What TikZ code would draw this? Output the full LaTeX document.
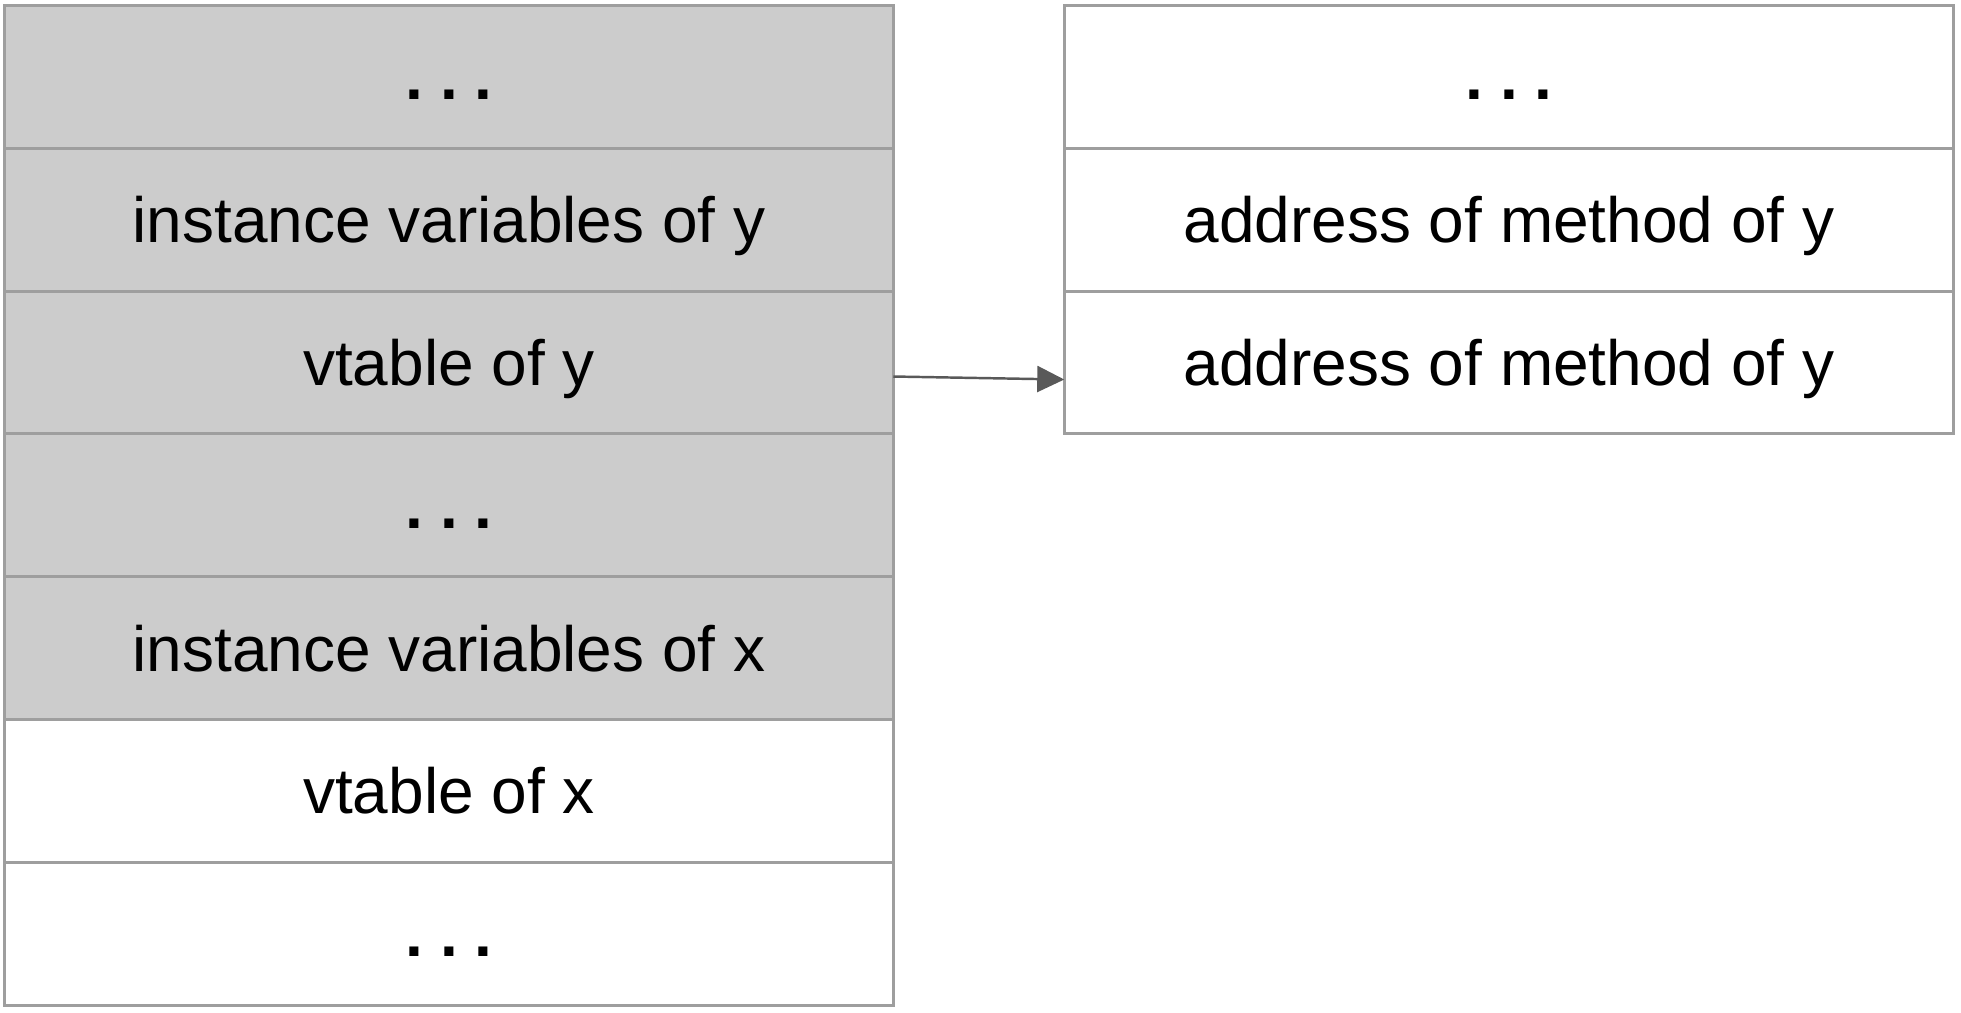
\documentclass[tikz,border=0pt]{standalone}
\usepackage{fontspec}
\setmainfont{Liberation Sans}
\usetikzlibrary{arrows.meta,positioning}
\definecolor{cellfill}{RGB}{204,204,204}
\definecolor{cellline}{RGB}{158,158,158}
\definecolor{ptrline}{RGB}{89,89,89}
\newcommand{\celldots}{\textbf{.\kern0.17cm.\kern0.17cm.}}

\begin{document}
\begin{tikzpicture}[
    node distance=0pt,
    cell/.style={
        draw=cellline,
        line width=0.85pt,
        minimum height=1.428cm,
        inner sep=0pt,
        outer sep=0pt,
        text height=0.46cm,
        text depth=0pt,
        font=\fontsize{18.2}{22}\selectfont
    },
    objcell/.style={cell, minimum width=8.885cm, fill=cellfill},
    plaincell/.style={cell, minimum width=8.885cm, fill=white},
    tblcell/.style={cell, minimum width=8.895cm, fill=white},
    ptr/.style={draw=ptrline, line width=0.7pt, -{Triangle[length=0.27cm,width=0.26cm]}}
]
    \useasboundingbox (0,0) rectangle (19.61,-10.12);

    % object layout
    \node[objcell, anchor=north] (dotsA) at (4.49,-0.055) {\celldots};
    \node[objcell, below=of dotsA] (ivy) {instance variables of y};
    \node[objcell, below=of ivy] (vty) {vtable of y};
    \node[objcell, below=of vty] (dotsB) {\celldots};
    \node[objcell, below=of dotsB] (ivx) {instance variables of x};
    \node[plaincell, below=of ivx] (vtx) {vtable of x};
    \node[plaincell, below=of vtx] (dotsC) {\celldots};

    % vtable of y
    \node[tblcell, anchor=north] (mdots) at (15.09,-0.055) {\celldots};
    \node[tblcell, below=of mdots] (mety1) {address of method of y};
    \node[tblcell, below=of mety1] (mety2) {address of method of y};

    \draw[ptr] ([yshift=-0.14cm]vty.east) -- ([yshift=-0.17cm]mety2.west);
\end{tikzpicture}
\end{document}
